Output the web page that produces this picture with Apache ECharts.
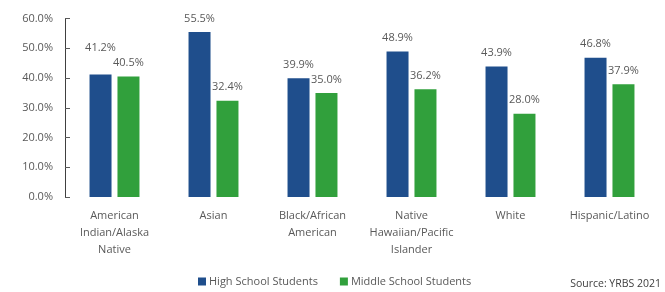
<!DOCTYPE html>
<html>
<head>
<meta charset="utf-8">
<script src="https://cdn.jsdelivr.net/npm/echarts@6/dist/echarts.min.js"></script>
<style>
html,body{margin:0;padding:0;background:#fff;}
#c{width:665px;height:292px;}
</style>
</head>
<body>
<div id="c"></div>
<script>
var categories = ['American\nIndian/Alaska\nNative', 'Asian', 'Black/African\nAmerican', 'Native\nHawaiian/Pacific\nIslander', 'White', 'Hispanic/Latino'];
var highSchool = [41.2, 55.5, 39.9, 48.9, 43.9, 46.8];
var middleSchool = [40.5, 32.4, 35.0, 36.2, 28.0, 37.9];
var seriesNames = ['High School Students', 'Middle School Students'];
var yTicks = [0, 10, 20, 30, 40, 50, 60];
var sourceText = 'Source: YRBS 2021';

var FONT = '"Open Sans", sans-serif';
var chart = echarts.init(document.getElementById('c'), null, {renderer: 'canvas'});

function toData(arr, extraIdx) {
  return arr.map(function (v, i) {
    if (i === extraIdx) {
      return {value: v, label: {offset: [0, -13]}};
    }
    return v;
  });
}

chart.setOption({
  animation: false,
  backgroundColor: '#ffffff',
  textStyle: {fontFamily: FONT},
  grid: {left: 65, right: 6, top: 18.6, bottom: 95, containLabel: false},
  legend: {
    data: seriesNames,
    left: 193,
    top: 271,
    itemWidth: 8,
    itemHeight: 8,
    itemGap: 22,
    icon: 'rect',
    textStyle: {color: '#595959', fontSize: 11, fontFamily: FONT, padding: [0, 0, 0, -2]}
  },
  graphic: [{
    type: 'text',
    right: 4,
    top: 279,
    style: {text: sourceText, fill: '#404040', font: '10.5px ' + FONT}
  }],
  xAxis: {
    type: 'category',
    data: categories,
    axisLine: {show: false},
    axisTick: {show: false},
    axisLabel: {
      color: '#595959',
      fontSize: 11,
      fontFamily: FONT,
      lineHeight: 17,
      margin: 10,
      interval: 0
    }
  },
  yAxis: {
    type: 'value',
    min: yTicks[0],
    max: yTicks[yTicks.length - 1],
    interval: 10,
    splitLine: {show: false},
    axisLine: {show: true, lineStyle: {color: '#404040', width: 1}},
    axisTick: {show: true, inside: true, length: 5, lineStyle: {color: '#595959'}},
    axisLabel: {
      color: '#595959',
      fontSize: 11,
      fontFamily: FONT,
      margin: 12,
      formatter: function (v) { return v.toFixed(1) + '%'; }
    }
  },
  series: [{
    name: seriesNames[0],
    type: 'bar',
    data: toData(highSchool, 0),
    barWidth: 22,
    barGap: '27%',
    itemStyle: {color: '#1f4e8c'},
    label: {
      show: true, position: 'top', distance: 8,
      color: '#595959', fontSize: 11, fontFamily: FONT,
      formatter: function (p) { return p.value.toFixed(1) + '%'; }
    }
  }, {
    name: seriesNames[1],
    type: 'bar',
    data: middleSchool,
    barWidth: 22,
    itemStyle: {color: '#31a03c'},
    label: {
      show: true, position: 'top', distance: 8,
      color: '#595959', fontSize: 11, fontFamily: FONT,
      formatter: function (p) { return p.value.toFixed(1) + '%'; }
    }
  }]
});
</script>
</body>
</html>
